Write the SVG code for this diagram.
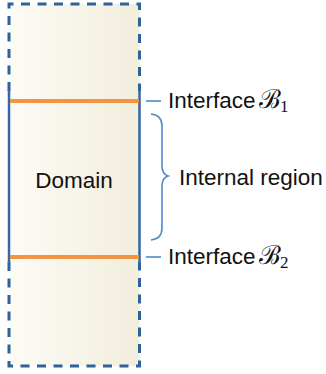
<svg xmlns="http://www.w3.org/2000/svg" width="326" height="374" viewBox="0 0 326 374">
<defs>
<linearGradient id="fillGrad" x1="0" y1="0" x2="1" y2="0">
<stop offset="0" stop-color="#fcfbf5"/>
<stop offset="1" stop-color="#f2eedd"/>
</linearGradient>
<style>
.dash{fill:none;stroke:#2f6298;stroke-width:3;stroke-dasharray:9 7.5;}
.solid{fill:none;stroke:#3567a0;stroke-width:2.5;}
.iface{stroke:#f39443;stroke-width:4;}
.tick{stroke:#4d8acb;stroke-width:1.6;}
.brace{fill:none;stroke:#4d8acb;stroke-width:1.6;}
.lbl{font-family:"Liberation Sans",Arial,sans-serif;font-size:22.5px;fill:#111;}
.cal{font-family:"DejaVu Serif","Liberation Serif",serif;font-size:26px;fill:#111;}
.sub{font-family:"Liberation Serif",serif;font-size:17px;fill:#111;}
</style>
</defs>
<rect x="0" y="0" width="326" height="374" fill="#ffffff"/>
<g id="domain">
<rect x="9" y="4" width="130.5" height="362" fill="url(#fillGrad)"/>
<path class="dash" d="M9,91 V4 H139.5 V91"/>
<path class="dash" d="M9,262 V366 H139.5 V262"/>
<path class="solid" d="M9,90 V263 M139.5,90 V263"/>
<text class="lbl" x="74" y="188" text-anchor="middle">Domain</text>
</g>
<g id="interface1">
<line class="iface" x1="10" y1="101" x2="139" y2="101"/>
<text class="lbl" x="168" y="108">Interface</text>
<text class="cal" x="259" y="108">ℬ</text>
<text class="sub" x="280" y="112">1</text>
</g>
<g id="interface2">
<line class="iface" x1="10" y1="257" x2="139" y2="257"/>
<text class="lbl" x="168" y="264">Interface</text>
<text class="cal" x="259" y="264">ℬ</text>
<text class="sub" x="280" y="268">2</text>
</g>
<g id="internal-region">
<text class="lbl" x="179" y="185">Internal region</text>
</g>
<g id="connectors">
<line class="tick" x1="146" y1="101" x2="161" y2="101"/>
<line class="tick" x1="146" y1="257" x2="161" y2="257"/>
<path class="brace" d="M151,114 Q162,115 162,126 V166 Q162,174 168,176 Q162,178 162,186 V228 Q162,239 151,240"/>
</g>
</svg>
